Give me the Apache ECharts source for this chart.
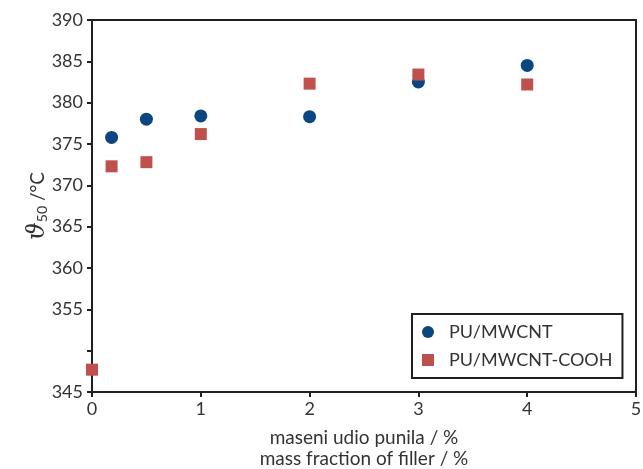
<!DOCTYPE html>
<html>
<head>
<meta charset="utf-8">
<script src="https://cdn.jsdelivr.net/npm/echarts@6/dist/echarts.min.js"></script>
<style>html,body{margin:0;padding:0;background:#fff}#c{width:643px;height:469px}</style>
</head>
<body>
<div id="c"></div>
<script>
const xMwcnt = [0.18, 0.5, 1, 2, 3, 4];
const yMwcnt = [375.8, 378.0, 378.4, 378.3, 382.5, 384.5];
const xCooh = [0, 0.18, 0.5, 1, 2, 3, 4];
const yCooh = [347.7, 372.3, 372.8, 376.2, 382.3, 383.4, 382.2];
const seriesNames = ['PU/MWCNT', 'PU/MWCNT-COOH'];
const xTitle = ['maseni udio punila / %', 'mass fraction of filler / %'];

const chart = echarts.init(document.getElementById('c'));
const font = 'Lato';
const ink = '#231f20';
chart.setOption({
  animation: false,
  textStyle: { fontFamily: font },
  grid: { left: 92, right: 7, top: 20, bottom: 77, show: true, borderColor: ink, borderWidth: 2,
          containLabel: false, outerBoundsMode: 'none' },
  xAxis: {
    type: 'value', min: 0, max: 5, interval: 1,
    axisLine: { lineStyle: { color: ink, width: 2 } },
    axisTick: { lineStyle: { color: ink, width: 2 }, length: 5 },
    splitLine: { show: false },
    axisLabel: { color: '#333', fontSize: 18, margin: 8, fontFamily: font },
    name: xTitle.join('\n'), nameLocation: 'middle', nameGap: 35, nameMoveOverlap: false,
    nameTextStyle: { color: '#333', fontSize: 19, lineHeight: 21, fontFamily: font }
  },
  yAxis: {
    type: 'value', min: 345, max: 390, interval: 5,
    axisLine: { lineStyle: { color: ink, width: 2 } },
    axisTick: { lineStyle: { color: ink, width: 2 }, length: 5 },
    splitLine: { show: false },
    axisLabel: { color: '#333', fontSize: 18, margin: 9, fontFamily: font,
      formatter: v => v === 350 ? '' : String(v) },
    name: '{i|ϑ}{s|50}{n| /°C}', nameLocation: 'middle', nameGap: 42, nameRotate: 90,
    nameMoveOverlap: false,
    nameTextStyle: { color: '#333', rich: {
      i: { fontSize: 25, fontStyle: 'italic', fontFamily: 'DejaVu Serif', color: '#333' },
      s: { fontSize: 14, fontFamily: font, color: '#333', padding: [10, 0, 0, 0] },
      n: { fontSize: 19, fontFamily: font, color: '#333' }
    } }
  },
  legend: {
    orient: 'vertical', left: 412, top: 314,
    padding: [9, 10, 9, 10], itemGap: 10,
    borderColor: ink, borderWidth: 2, backgroundColor: '#fff',
    itemWidth: 12, itemHeight: 12,
    textStyle: { color: '#333', fontSize: 18, fontFamily: font, padding: [0, 0, 0, 10] },
    data: [{ name: seriesNames[0], icon: 'circle' }, { name: seriesNames[1], icon: 'rect' }]
  },
  series: [
    { name: seriesNames[0], type: 'scatter', symbol: 'circle', symbolSize: 13,
      itemStyle: { color: '#0b4680', opacity: 1 }, data: xMwcnt.map((x, i) => [x, yMwcnt[i]]) },
    { name: seriesNames[1], type: 'scatter', symbol: 'rect', symbolSize: 12,
      itemStyle: { color: '#c0504d', opacity: 1 }, data: xCooh.map((x, i) => [x, yCooh[i]]) }
  ]
});
</script>
</body>
</html>
